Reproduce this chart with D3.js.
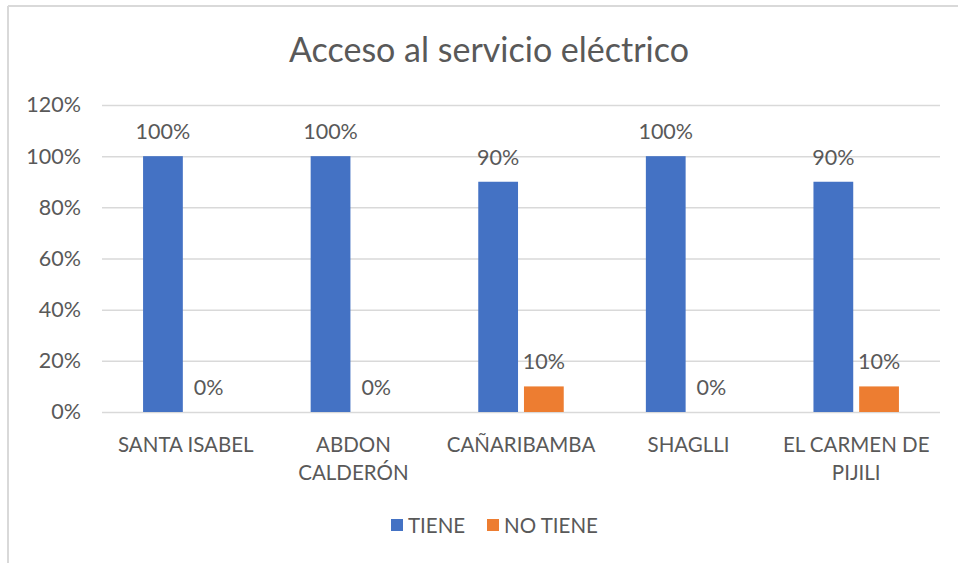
<!DOCTYPE html>
<html>
<head>
<meta charset="utf-8">
<script src="https://cdn.jsdelivr.net/npm/d3@7"></script>
<style>
  body { margin: 0; background: #fff; }
  #chart text { font-family: Lato, "Open Sans", sans-serif; fill: #595959; }
</style>
</head>
<body>
<div id="chart"></div>
<script>
const categories = [["SANTA ISABEL"], ["ABDON", "CALDERÓN"], ["CAÑARIBAMBA"], ["SHAGLLI"], ["EL CARMEN DE", "PIJILI"]];
const seriesNames = ["TIENE", "NO TIENE"];
const tiene = [1.0, 1.0, 0.9, 1.0, 0.9];
const noTiene = [0, 0, 0.1, 0, 0.1];
const yTicks = [0, 0.2, 0.4, 0.6, 0.8, 1.0, 1.2];
const colors = ["#4472C4", "#ED7D31"];

const W = 958, H = 563;
const margin = { top: 105, right: 18, bottom: 151, left: 102 };
const width = W - margin.left - margin.right;
const height = H - margin.top - margin.bottom;

const root = d3.select("#chart").append("svg")
  .attr("width", W)
  .attr("height", H);

// outer frame (only top and left edges visible in the original)
root.append("line").attr("x1", 8).attr("x2", W).attr("y1", 6).attr("y2", 6)
  .attr("stroke", "#d9d9d9").attr("stroke-width", 2);
root.append("line").attr("x1", 8).attr("x2", 8).attr("y1", 6).attr("y2", H)
  .attr("stroke", "#d9d9d9").attr("stroke-width", 2);

root.append("text")
  .attr("x", 489)
  .attr("y", 62)
  .attr("text-anchor", "middle")
  .style("font-size", "34px")
  .text("Acceso al servicio eléctrico");

const svg = root.append("g")
  .attr("transform", `translate(${margin.left},${margin.top})`);

const x0 = d3.scaleBand()
  .domain(d3.range(categories.length))
  .range([0, width]);

const x1 = d3.scaleBand()
  .domain([0, 1])
  .range([x0.bandwidth() * 0.245, x0.bandwidth() * 0.755])
  .paddingInner(0.13);

const y = d3.scaleLinear()
  .domain([0, 1.2])
  .range([height, 0]);

const yAxis = d3.axisLeft(y)
  .tickValues(yTicks)
  .tickSize(-width)
  .tickPadding(8)
  .tickFormat(d3.format(".0%"));

svg.append("g")
  .attr("class", "y-axis")
  .call(yAxis)
  .call(g => g.select(".domain").remove())
  .call(g => g.selectAll(".tick line").attr("stroke", "#d9d9d9").attr("stroke-width", 1.5))
  .call(g => g.selectAll(".tick text").style("font-size", "21.5px").attr("x", -21));

const rows = categories.map((c, i) => ({ i, values: [tiene[i], noTiene[i]] }));

const groups = svg.selectAll(".group")
  .data(rows)
  .enter()
  .append("g")
  .attr("transform", d => `translate(${x0(d.i)},0)`);

groups.selectAll("rect")
  .data(d => d.values.map((v, s) => ({ v, s })))
  .enter()
  .append("rect")
  .attr("x", d => x1(d.s))
  .attr("y", d => y(d.v))
  .attr("width", x1.bandwidth())
  .attr("height", d => height - y(d.v))
  .attr("fill", d => colors[d.s]);

groups.selectAll(".label")
  .data(d => d.values.map((v, s) => ({ v, s })))
  .enter()
  .append("text")
  .attr("class", "label")
  .attr("x", d => x1(d.s) + x1.bandwidth() / 2)
  .attr("y", d => y(d.v) - 17)
  .attr("text-anchor", "middle")
  .style("font-size", "21.5px")
  .text(d => d3.format(".0%")(d.v));

// category labels
svg.selectAll(".cat")
  .data(categories)
  .enter()
  .append("text")
  .attr("class", "cat")
  .attr("text-anchor", "middle")
  .attr("x", (d, i) => x0(i) + x0.bandwidth() / 2)
  .attr("y", height + 40)
  .style("font-size", "20.5px")
  .selectAll("tspan")
  .data(d => d)
  .enter()
  .append("tspan")
  .attr("x", function () { return this.parentNode.getAttribute("x"); })
  .attr("dy", (d, i) => i === 0 ? 0 : 28)
  .text(d => d);

// legend
const legend = root.append("g")
  .attr("transform", "translate(391,525)");

const legendX = [0, 96];
seriesNames.forEach((name, i) => {
  const item = legend.append("g").attr("transform", `translate(${legendX[i]},0)`);
  item.append("rect")
    .attr("x", 0).attr("y", -6)
    .attr("width", 12).attr("height", 12)
    .attr("fill", colors[i]);
  item.append("text")
    .attr("x", 17)
    .attr("y", 8)
    .style("font-size", "20.5px")
    .text(name);
});
</script>
</body>
</html>
